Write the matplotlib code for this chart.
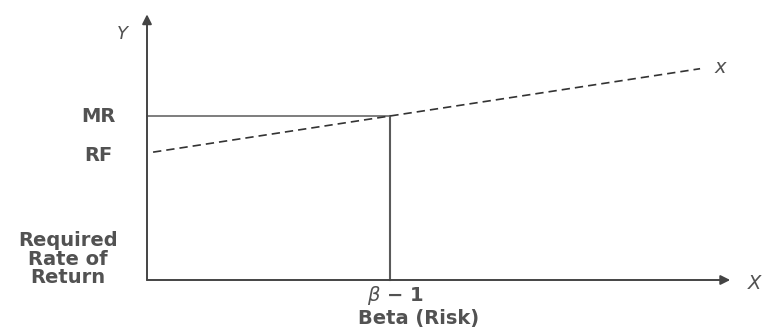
import numpy as np
import matplotlib.pyplot as plt

# data (beta units on x, return units on y)
beta_pts = [0.025, 1.0, 2.276]
rf = 7.74
mr = 10.0
slope = mr - rf
sml = [rf + slope * b for b in beta_pts]
x_axis_end = 2.40
y_axis_end = 16.2

plt.rcParams['font.family'] = ['DejaVu Sans']

fig = plt.figure(figsize=(7.62, 3.29), dpi=100)
ax = fig.add_axes([0, 0, 1, 1])
ax.set_xlim(-147 / 243, (762 - 147) / 243)
ax.set_ylim(-49 / 16.4, 280 / 16.4)
ax.axis('off')

line_col = '#5a5a5a'
txt_col = '#525252'

# axes with arrows
ax.annotate('', xy=(0, y_axis_end), xytext=(0, 0),
            arrowprops=dict(arrowstyle='-|>', color='#444444', lw=1.4,
                            mutation_scale=14, shrinkA=0, shrinkB=0))
ax.annotate('', xy=(x_axis_end, 0), xytext=(0, 0),
            arrowprops=dict(arrowstyle='-|>', color='#444444', lw=1.4,
                            mutation_scale=14, shrinkA=0, shrinkB=0))

# MR horizontal and beta = 1 vertical
ax.plot([0, 1], [mr, mr], color=line_col, lw=1.1)
ax.plot([1, 1], [0, mr], color=line_col, lw=1.5)

# security market line
ax.plot(beta_pts, sml, color='#333333', lw=1.2, ls=(0, (5, 3)))

fs = 14
ax.text(-0.10, 15.0, 'Y', fontsize=13, style='italic', color=txt_col, ha='center', va='center')
ax.text(-0.20, mr, 'MR', fontsize=fs, weight='bold', color=txt_col, ha='center', va='center')
ax.text(-0.20, 7.6, 'RF', fontsize=fs, weight='bold', color=txt_col, ha='center', va='center')
ax.text(-0.325, 1.28, 'Required\nRate of\nReturn', fontsize=fs, weight='bold', color=txt_col,
        ha='center', va='center', linespacing=0.98)
ax.text(2.36, 12.95, 'x', fontsize=fs, style='italic', color=txt_col, ha='center', va='center')
ax.text(2.50, -0.2, 'X', fontsize=fs, style='italic', color=txt_col, ha='center', va='center')
ax.text(1.02, -0.95, r'$\beta$ − 1', fontsize=fs, weight='bold', color=txt_col, ha='center', va='center')
ax.text(0.87, -2.35, 'Beta (Risk)', fontsize=fs, weight='bold', color=txt_col, ha='left', va='center')

fig.savefig('out.png', dpi=100)
